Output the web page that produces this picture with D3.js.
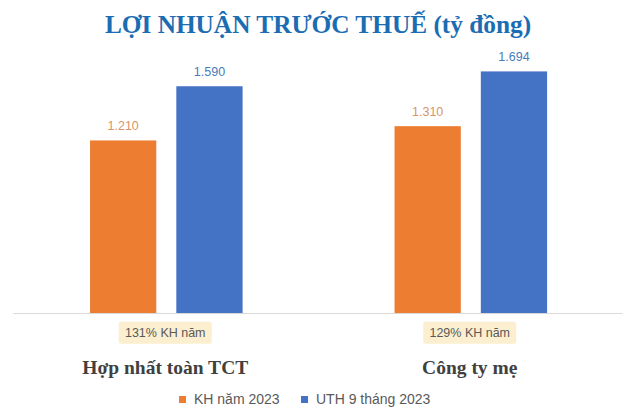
<!DOCTYPE html>
<html>
<head>
<meta charset="utf-8">
<script src="https://cdn.jsdelivr.net/npm/d3@7"></script>
<style>
  html, body { margin: 0; padding: 0; background: #fff; }
  svg { display: block; }
</style>
</head>
<body>
<div id="chart"></div>
<script>
const title = "LỢI NHUẬN TRƯỚC THUẾ (tỷ đồng)";
const categories = ["Hợp nhất toàn TCT", "Công ty mẹ"];
const seriesNames = ["KH năm 2023", "UTH 9 tháng 2023"];
const planValues = [1210, 1310];
const actualValues = [1590, 1694];
const ratioLabels = ["131% KH năm", "129% KH năm"];
const colors = ["#ed7d31", "#4472c4"];
const labelColors = ["#d6956a", "#4a7cb8"];

const W = 625, H = 410;
const svg = d3.select("#chart").append("svg").attr("width", W).attr("height", H);

const fmt = v => d3.format(",")(v).replace(/,/g, ".");

const x0 = d3.scaleBand().domain(categories).range([13, 622]).padding(0);
const bw = x0.bandwidth();
const x1 = d3.scaleBand().domain(seriesNames).range([bw * 0.253, bw * 0.754]).paddingInner(0.232).paddingOuter(0);
const y = d3.scaleLinear().domain([0, 1800]).range([313, 56.3]);

// title
svg.append("text")
  .attr("x", 318).attr("y", 33)
  .attr("text-anchor", "middle")
  .attr("font-family", "Liberation Serif, Times New Roman, serif")
  .attr("font-weight", "bold")
  .attr("font-size", 25.3)
  .attr("fill", "#1b6db3")
  .text(title);

// axis baseline
const axis = d3.axisBottom(x0).tickSize(0).tickFormat("");
const ax = svg.append("g").attr("transform", `translate(0,${y(0)})`).call(axis);
ax.select(".domain").attr("stroke", "#d9d9d9").attr("stroke-width", 1);

const data = categories.map((c, i) => ({
  cat: c,
  vals: [planValues[i], actualValues[i]],
  ratio: ratioLabels[i]
}));

const groups = svg.selectAll(".grp").data(data).enter().append("g")
  .attr("transform", d => `translate(${x0(d.cat)},0)`);

groups.selectAll("rect.bar").data(d => d.vals.map((v, j) => ({ s: seriesNames[j], v, j })))
  .enter().append("rect")
  .attr("class", "bar")
  .attr("x", d => x1(d.s))
  .attr("width", x1.bandwidth())
  .attr("y", d => y(d.v))
  .attr("height", d => y(0) - y(d.v))
  .attr("fill", d => colors[d.j]);

groups.selectAll("text.val").data(d => d.vals.map((v, j) => ({ s: seriesNames[j], v, j })))
  .enter().append("text")
  .attr("class", "val")
  .attr("x", d => x1(d.s) + x1.bandwidth() / 2)
  .attr("y", d => y(d.v) - 10)
  .attr("text-anchor", "middle")
  .attr("font-family", "Liberation Sans, Arial, sans-serif")
  .attr("font-size", 12.5)
  .attr("fill", d => labelColors[d.j])
  .text(d => fmt(d.v));

// ratio boxes
groups.append("rect")
  .attr("x", bw / 2 - 46.5)
  .attr("y", 321.7)
  .attr("width", 93)
  .attr("height", 22)
  .attr("rx", 2)
  .attr("fill", "#fcefcf");
groups.append("text")
  .attr("x", bw / 2)
  .attr("y", 337)
  .attr("text-anchor", "middle")
  .attr("font-family", "Liberation Sans, Arial, sans-serif")
  .attr("font-size", 12.5)
  .attr("fill", "#595959")
  .text(d => d.ratio);

// category labels
groups.append("text")
  .attr("x", bw / 2)
  .attr("y", 374)
  .attr("text-anchor", "middle")
  .attr("font-family", "Liberation Serif, Times New Roman, serif")
  .attr("font-weight", "bold")
  .attr("font-size", 19.5)
  .attr("fill", "#404040")
  .text(d => d.cat);

// legend
const legendX = [179, 301];
const lg = svg.selectAll(".lg").data(seriesNames).enter().append("g")
  .attr("transform", (d, i) => `translate(${legendX[i]},396)`);
lg.append("rect").attr("width", 7).attr("height", 7).attr("fill", (d, i) => colors[i]);
lg.append("text")
  .attr("x", 15).attr("y", 7.5)
  .attr("font-family", "Liberation Sans, Arial, sans-serif")
  .attr("font-size", 14)
  .attr("fill", "#595959")
  .text(d => d);
</script>
</body>
</html>
